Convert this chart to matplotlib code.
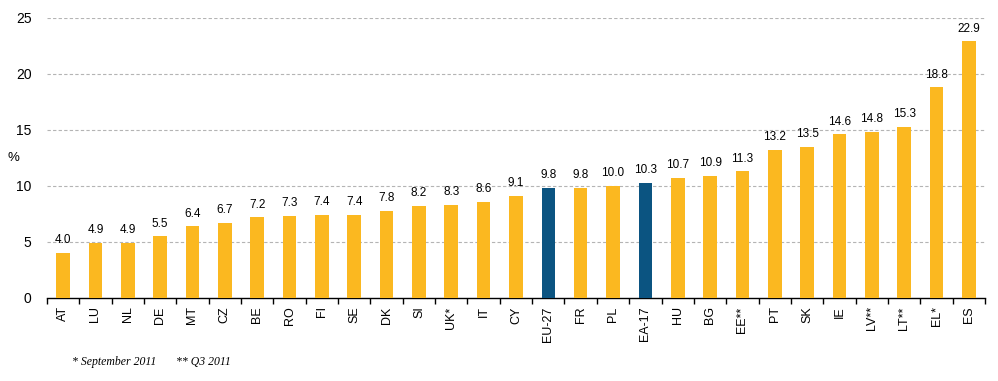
import matplotlib.pyplot as plt
import numpy as np

countries = ["AT", "LU", "NL", "DE", "MT", "CZ", "BE", "RO", "FI", "SE", "DK", "SI", "UK*",
             "IT", "CY", "EU-27", "FR", "PL", "EA-17", "HU", "BG", "EE**", "PT", "SK", "IE",
             "LV**", "LT**", "EL*", "ES"]
rates = [4.0, 4.9, 4.9, 5.5, 6.4, 6.7, 7.2, 7.3, 7.4, 7.4, 7.8, 8.2, 8.3,
         8.6, 9.1, 9.8, 9.8, 10.0, 10.3, 10.7, 10.9, 11.3, 13.2, 13.5, 14.6,
         14.8, 15.3, 18.8, 22.9]
aggregates = ["EU-27", "EA-17"]

orange = "#FBB820"
blue = "#0B5481"

plt.rcParams["font.family"] = ["Liberation Sans", "DejaVu Sans"]

fig = plt.figure(figsize=(9.98, 3.81), dpi=100)
ax = fig.add_axes([0.047, 0.218, 0.94, 0.735])

x = np.arange(len(countries))
colors = [blue if c in aggregates else orange for c in countries]
ax.bar(x, rates, width=0.42, color=colors, zorder=3)

for xi, v in zip(x, rates):
    ax.text(xi, v + 0.6, f"{v:.1f}", ha="center", va="bottom", fontsize=8.5, zorder=4)

ax.set_xlim(-0.5, len(countries) - 0.5)
ax.set_ylim(0, 25)
ax.set_yticks([0, 5, 10, 15, 20, 25])
ax.tick_params(axis="y", length=0, labelsize=10, pad=11)
ax.set_xticks(x)
ax.set_xticklabels(countries, rotation=90, fontsize=9)
ax.tick_params(axis="x", length=0, pad=6)
ax.set_xticks(np.arange(len(countries) + 1) - 0.5, minor=True)
ax.tick_params(axis="x", which="minor", length=4, width=1, direction="out")

for y in [5, 10, 15, 20, 25]:
    ax.axhline(y, color="#B4B4B4", lw=0.8, ls=(0, (3, 2)), zorder=1)

for s in ["top", "right", "left"]:
    ax.spines[s].set_visible(False)
ax.spines["bottom"].set_linewidth(1)

fig.text(0.008, 0.585, "%", fontsize=9.5, va="center")
fig.text(0.072, 0.042, "* September 2011", fontsize=8.5, style="italic",
         family="Liberation Serif")
fig.text(0.176, 0.042, "** Q3 2011", fontsize=8.5, style="italic",
         family="Liberation Serif")

fig.savefig("out.png", dpi=100)
